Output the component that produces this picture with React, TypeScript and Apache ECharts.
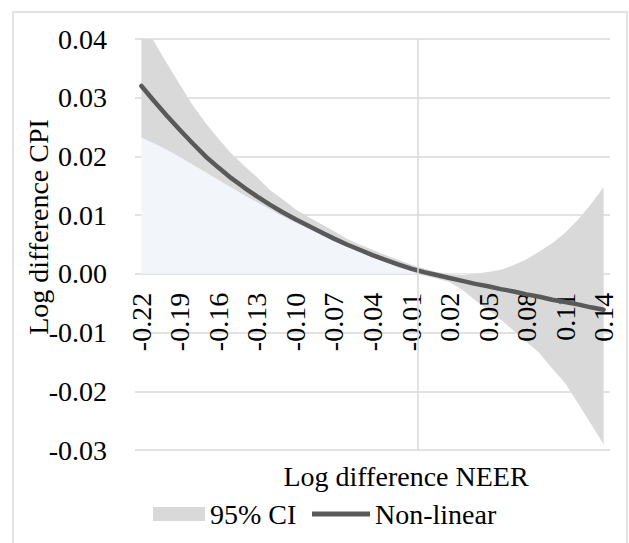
import React, { useEffect, useRef } from "react";
import * as echarts from "echarts";

const FONT = '"Liberation Serif", "Times New Roman", serif';

// Log difference NEER (category axis)
const categories = [
  "-0.22", "-0.21", "-0.20", "-0.19", "-0.18", "-0.17", "-0.16", "-0.15", "-0.14", "-0.13",
  "-0.12", "-0.11", "-0.10", "-0.09", "-0.08", "-0.07", "-0.06", "-0.05", "-0.04", "-0.03",
  "-0.02", "-0.01", "0.00", "0.01", "0.02", "0.03", "0.04", "0.05", "0.06", "0.07",
  "0.08", "0.09", "0.10", "0.11", "0.12", "0.13", "0.14",
];

// Non-linear estimate
const nonLinear = [
  0.032, 0.0294, 0.0269, 0.0245, 0.0222, 0.02, 0.0181, 0.0163, 0.0147, 0.0132,
  0.0118, 0.0105, 0.0093, 0.0082, 0.0071, 0.006, 0.005, 0.0041, 0.0032, 0.0024,
  0.0016, 0.0009, 0.0003, -0.0002, -0.0007, -0.0012, -0.0017, -0.0021, -0.0026, -0.003,
  -0.0035, -0.0039, -0.0044, -0.0048, -0.0052, -0.0057, -0.0061,
];

// 95% CI upper bound
const upperCI = [
  0.044, 0.0395, 0.0358, 0.0322, 0.0287, 0.0257, 0.023, 0.0205, 0.0184, 0.0165,
  0.0143, 0.0127, 0.011, 0.0097, 0.0085, 0.0073, 0.006, 0.005, 0.0041, 0.0032,
  0.0024, 0.0016, 0.0009, 0.0003, -0.0001, -0.0002, 0.0, 0.0003, 0.0007, 0.0015,
  0.0025, 0.0038, 0.0052, 0.007, 0.0092, 0.0118, 0.0148,
];

// 95% CI lower bound
const lowerCI = [
  0.0232, 0.0222, 0.0211, 0.0199, 0.0186, 0.0173, 0.016, 0.0147, 0.0134, 0.0122,
  0.011, 0.0098, 0.0087, 0.0077, 0.0066, 0.0056, 0.0046, 0.0037, 0.0028, 0.002,
  0.0011, 0.0004, -0.0003, -0.0008, -0.0014, -0.0027, -0.0045, -0.0061, -0.0078, -0.0097,
  -0.0116, -0.0135, -0.0161, -0.0186, -0.022, -0.0255, -0.029,
];

// Y axis range
const yMin = -0.03;
const yMax = 0.04;
const yStep = 0.01;

// Category where the vertical axis crosses
const crossesAt = "0.00";

const yTitle = "Log difference CPI";
const xTitle = "Log difference NEER";
const ciName = "95% CI";
const lineName = "Non-linear";

const GRID = { left: 135, right: 19, top: 39, bottom: 93 };
const HEIGHT = 543;

export default function App() {
  const ref = useRef<HTMLDivElement>(null);

  useEffect(() => {
    if (!ref.current) return;
    const chart = echarts.init(ref.current, undefined, { renderer: "svg" });
    const bandWidth = upperCI.map((u, i) => u - lowerCI[i]);
    const crossIndex = categories.indexOf(crossesAt) - 0.5;
    const gridHeight = HEIGHT - GRID.top - GRID.bottom;
    // move the category axis up from the bottom edge to the value 0
    const zeroOffset = -gridHeight * (0 - yMin) / (yMax - yMin);

    const option = {
      animation: false,
      textStyle: { fontFamily: FONT },
      grid: GRID,
      xAxis: [
        {
          type: "category",
          data: categories,
          boundaryGap: true,
          position: "bottom",
          offset: zeroOffset,
          z: 3,
          axisLine: { show: false, onZero: false },
          axisTick: { show: false },
          splitLine: { show: false },
          axisLabel: {
            interval: 2,
            rotate: 90,
            margin: 19,
            fontSize: 28,
            color: "#000",
            fontFamily: FONT,
          },
        },
        {
          type: "value",
          min: -0.5,
          max: categories.length - 0.5,
          show: false,
          position: "top",
          axisLine: { onZero: false },
        },
      ],
      yAxis: {
        type: "value",
        min: yMin,
        max: yMax,
        interval: yStep,
        axisLine: { show: false, onZero: false },
        axisTick: { show: false },
        splitLine: { show: true, lineStyle: { color: "#d9d9d9", width: 1.5 } },
        axisLabel: {
          margin: 28,
          fontSize: 28,
          color: "#000",
          fontFamily: FONT,
          formatter: (v: number) => v.toFixed(2),
        },
      },
      legend: [
        {
          data: [{ name: ciName, icon: "rect", itemStyle: { color: "#d9d9d9" } }],
          left: 153,
          top: 500,
          padding: 0,
          itemWidth: 52,
          itemHeight: 14,
          selectedMode: false,
          textStyle: { fontSize: 28, color: "#000", fontFamily: FONT },
        },
        {
          data: [{ name: lineName, icon: "rect", itemStyle: { color: "#595959" } }],
          left: 312,
          top: 500,
          padding: 0,
          itemWidth: 58,
          itemHeight: 5,
          selectedMode: false,
          textStyle: { fontSize: 28, color: "#000", fontFamily: FONT },
        },
      ],
      graphic: [
        {
          type: "rect",
          silent: true,
          shape: { x: 13, y: 12, width: 614, height: 540 },
          style: { fill: "none", stroke: "#d9d9d9", lineWidth: 1.5 },
        },
        {
          type: "text",
          silent: true,
          x: 38,
          y: 227,
          rotation: Math.PI / 2,
          style: {
            text: yTitle,
            fontSize: 28,
            fontFamily: FONT,
            fill: "#000",
            align: "center",
            verticalAlign: "middle",
          },
        },
        {
          type: "text",
          silent: true,
          x: 406,
          y: 476,
          style: {
            text: xTitle,
            fontSize: 28,
            fontFamily: FONT,
            fill: "#000",
            align: "center",
            verticalAlign: "middle",
          },
        },
      ],
      series: [
        {
          name: "lower",
          type: "line",
          stack: "ci",
          stackStrategy: "all",
          data: lowerCI,
          symbol: "none",
          lineStyle: { width: 0 },
          itemStyle: { color: "#f2f6fb" },
          areaStyle: { color: "#f2f6fb", opacity: 1 },
          silent: true,
          z: 2,
        },
        {
          name: ciName,
          type: "line",
          stack: "ci",
          stackStrategy: "all",
          data: bandWidth,
          symbol: "none",
          lineStyle: { width: 0 },
          itemStyle: { color: "#d9d9d9" },
          areaStyle: { color: "#d9d9d9", opacity: 1 },
          silent: true,
          z: 2,
        },
        {
          name: lineName,
          type: "line",
          data: nonLinear,
          symbol: "none",
          lineStyle: { color: "#595959", width: 4.5, cap: "round" },
          itemStyle: { color: "#595959" },
          silent: true,
          z: 4,
        },
        {
          name: "axis-cross",
          type: "line",
          xAxisIndex: 1,
          data: [],
          z: 1,
          silent: true,
          markLine: {
            silent: true,
            symbol: "none",
            label: { show: false },
            lineStyle: { color: "#d9d9d9", width: 1.5, type: "solid" },
            data: [{ xAxis: crossIndex }],
          },
        },
      ],
    };

    chart.setOption(option as any);
    return () => chart.dispose();
  }, []);

  return (
    <div
      ref={ref}
      style={{ position: "absolute", left: 0, top: 0, width: 629, height: HEIGHT, background: "#fff" }}
    />
  );
}
